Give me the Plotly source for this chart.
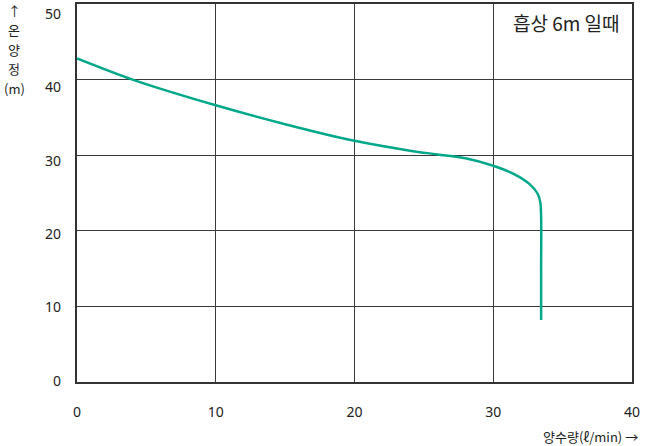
import plotly.graph_objects as go

# 양수량 (l/min) vs 전양정 (m), 흡상 6m
flow = [0, 4, 10, 15, 20, 24, 26, 28, 30, 31.5, 32.6, 33.2, 33.4, 33.45, 33.45]
head = [42.8, 40.0, 36.6, 34.1, 31.9, 30.6, 30.1, 29.6, 28.6, 27.5, 26.2, 24.9, 23.7, 15.0, 8.2]

x_ticks = [0, 10, 20, 30, 40]
y_ticks = [0, 10, 20, 30, 40, 50]
y_title = ["↑", "온", "양", "정", "(m)"]

FONT = "Noto Sans CJK KR"
NUM_FONT = "Noto Sans"
TEXT = "#222222"

fig = go.Figure()
fig.add_trace(
    go.Scatter(
        x=flow,
        y=head,
        mode="lines",
        line=dict(color="#00a889", width=2.5, shape="spline", smoothing=0.8),
        hoverinfo="skip",
    )
)
# invisible trace so the label axis gets drawn
fig.add_trace(go.Scatter(x=[None], y=[None], yaxis="y2", showlegend=False))

axis_common = dict(
    showgrid=True,
    gridcolor="#3a3a3a",
    gridwidth=1,
    showline=True,
    linecolor="#333333",
    linewidth=1.5,
    mirror=True,
    zeroline=False,
    ticks="",
    automargin=False,
    tickfont=dict(family=NUM_FONT, size=14, color=TEXT),
)

fig.update_xaxes(range=[0, 40], tickvals=x_ticks, ticklabelstandoff=16, **axis_common)
fig.update_yaxes(range=[0, 50], tickvals=y_ticks, showticklabels=False, **axis_common)

fig.update_layout(
    yaxis2=dict(
        overlaying="y",
        side="left",
        range=[-0.14, 51.36],
        tickvals=y_ticks,
        showgrid=False,
        showline=False,
        zeroline=False,
        ticks="",
        automargin=False,
        ticklabelstandoff=15,
        tickfont=dict(family=NUM_FONT, size=14, color=TEXT),
    )
)

fig.add_annotation(
    x=1, y=1, xref="paper", yref="paper", xanchor="right", yanchor="middle",
    xshift=-10, yshift=-18,
    text="흡상 6m 일때", showarrow=False,
    font=dict(family=FONT, size=19, color=TEXT),
)
fig.add_annotation(
    x=1, y=0, xref="paper", yref="paper", xanchor="right", yanchor="middle",
    xshift=8, yshift=-54,
    text="양수량(ℓ/min) →", showarrow=False,
    font=dict(family=FONT, size=13, color=TEXT),
)
for i, ch in enumerate(y_title):
    fig.add_annotation(
        x=0, y=1, xref="paper", yref="paper", xanchor="center", yanchor="middle",
        xshift=-63, yshift=-6 - 19.5 * i,
        text=ch, showarrow=False,
        font=dict(family=FONT, size=13, color=TEXT),
    )

fig.update_layout(
    width=660,
    height=446,
    margin=dict(l=77, r=28, t=4, b=64),
    plot_bgcolor="white",
    paper_bgcolor="white",
    showlegend=False,
    font=dict(family=FONT),
)

fig.write_html(
    "out.html",
    config={"displayModeBar": False},
    post_script="document.body.style.margin='0';",
)
